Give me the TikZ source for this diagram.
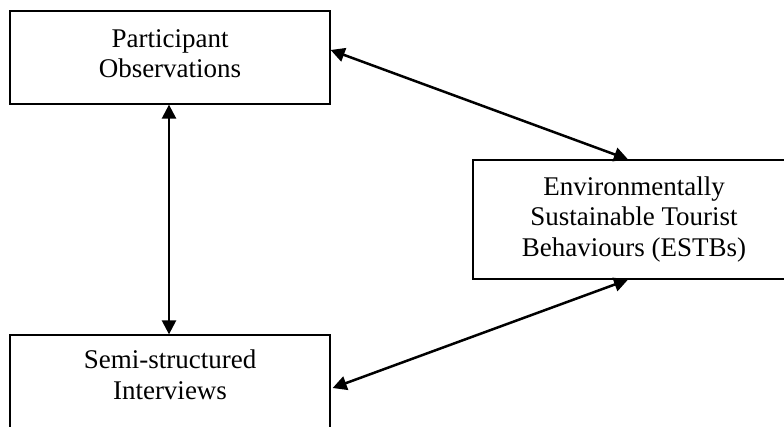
\documentclass[tikz,border=0pt]{standalone}
\usepackage{fontspec}
\setmainfont{Liberation Serif}
\usetikzlibrary{arrows.meta}
\begin{document}
\begin{tikzpicture}[x=1pt,y=-1pt,
  boxnode/.style={draw,line width=1.3pt,rectangle,inner sep=0pt,align=center,
    font=\fontsize{27}{30.5}\selectfont},
  txt/.style={align=center,inner sep=0pt,font=\fontsize{27}{31}\selectfont},
  arr/.style={line width=2.5pt,{Triangle[length=14pt,width=14pt]}-{Triangle[length=14pt,width=14pt]}}]
\useasboundingbox (0,0) rectangle (784,427);
\clip (0,0) rectangle (784,427);
\fill[white] (0,0) rectangle (784,427);
\node[boxnode,minimum width=320pt,minimum height=93pt] (po) at (170,57.5) {};
\node[txt,anchor=north,font=\fontsize{27}{30}\selectfont] (potext) at (170,29) {Participant\\Observations};
\node[boxnode,minimum width=322pt,minimum height=119pt] (es) at (634,219.5) {Environmentally\\Sustainable Tourist\\Behaviours (ESTBs)};
\node[boxnode,minimum width=320pt,minimum height=145pt] (si) at (170,407.5) {};
\node[txt,anchor=north] (sitext) at (170,350) {Semi-structured\\Interviews};
\draw[arr] ([yshift=7.5pt]po.east) -- ([xshift=-6pt]es.north);
\draw[arr] ([xshift=-1pt]po.south) -- ([xshift=-1pt]si.north);
\draw[arr] ([xshift=-6pt]es.south) -- ([xshift=2pt,yshift=19.5pt]si.east);
\end{tikzpicture}
\end{document}
